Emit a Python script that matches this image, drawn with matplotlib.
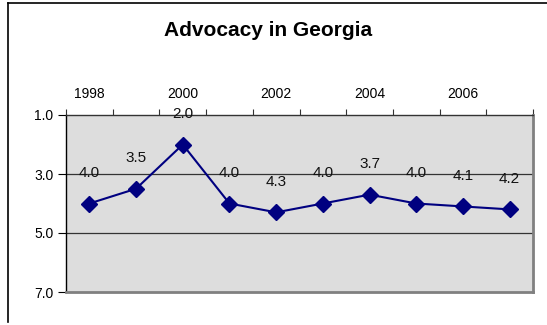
import matplotlib
matplotlib.use("Agg")
import matplotlib.pyplot as plt
from matplotlib.lines import Line2D

years = [1998, 1999, 2000, 2001, 2002, 2003, 2004, 2005, 2006, 2007]
scores = [4.0, 3.5, 2.0, 4.0, 4.3, 4.0, 3.7, 4.0, 4.1, 4.2]
score_labels = ["4.0", "3.5", "2.0", "4.0", "4.3", "4.0", "3.7", "4.0", "4.1", "4.2"]
y_ticks = [1.0, 3.0, 5.0, 7.0]

plt.rcParams["font.family"] = ["Liberation Sans", "DejaVu Sans"]

fig = plt.figure(figsize=(5.47, 3.25), dpi=100)
ax = fig.add_axes([66 / 547, 1 - 292 / 325, 467 / 547, 177 / 325])
ax.set_facecolor("#DDDDDD")

xs = list(range(len(years)))
ax.plot(xs, scores, color="#000080", linewidth=1.5, marker="D",
        markersize=8, markerfacecolor="#000080", markeredgecolor="#000080",
        zorder=3)
for x, v, lab in zip(xs, scores, score_labels):
    ax.annotate(lab, (x, v), xytext=(0, 22), textcoords="offset points",
                ha="center", va="center", fontsize=11, color="#111111")

ax.set_xlim(-0.5, len(years) - 0.5)
ax.set_ylim(7.0, 1.0)
ax.set_yticks(y_ticks)
ax.set_yticklabels([f"{t:.1f}" for t in y_ticks], fontsize=10)
for t in y_ticks[1:-1]:
    ax.axhline(t, color="#333333", linewidth=0.9, zorder=1)

# category axis on top: ticks at boundaries, labels every other year
ax.xaxis.tick_top()
ax.set_xticks([i - 0.5 for i in range(len(years) + 1)])
ax.set_xticklabels([])
ax.set_xticks(xs[::2], minor=True)
ax.set_xticklabels([str(y) for y in years[::2]], minor=True, fontsize=10)
ax.tick_params(axis="x", which="major", direction="out", length=4,
               width=0.8, color="#333333")
ax.tick_params(axis="x", which="minor", length=0, pad=10)
ax.tick_params(axis="y", direction="out", length=6, width=0.8, pad=3)

ax.spines["left"].set_color("black")
ax.spines["left"].set_linewidth(1.0)
ax.spines["top"].set_color("#333333")
ax.spines["top"].set_linewidth(1.0)
ax.spines["right"].set_color("#808080")
ax.spines["right"].set_linewidth(2.0)
ax.spines["bottom"].set_color("#808080")
ax.spines["bottom"].set_linewidth(2.0)

fig.text(268 / 547, 1 - 36 / 325, "Advocacy in Georgia", ha="center",
         va="baseline", fontsize=15, fontweight="bold")

# chart frame (left and top edges)
fig.add_artist(Line2D([8 / 547, 8 / 547], [1 - 322 / 325, 1 - 3 / 325],
                      color="black", linewidth=1.2))
fig.add_artist(Line2D([8 / 547, 1.0], [1 - 3 / 325, 1 - 3 / 325],
                      color="black", linewidth=1.2))

fig.savefig("out.png", dpi=100)
